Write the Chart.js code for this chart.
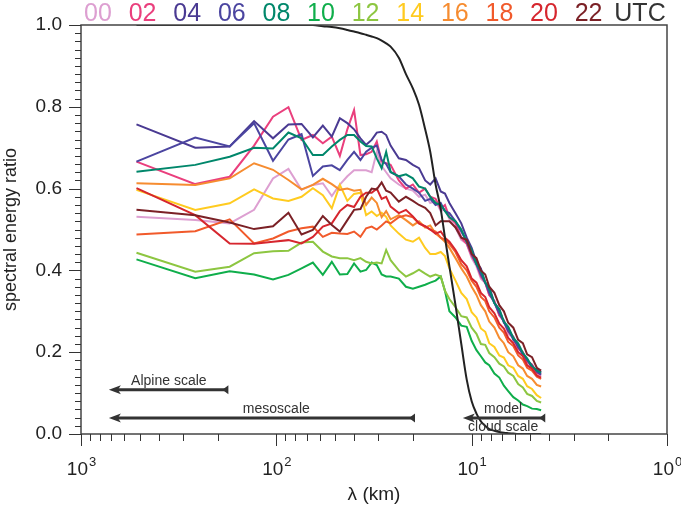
<!DOCTYPE html>
<html>
<head>
<meta charset="utf-8">
<script src="https://cdn.jsdelivr.net/npm/chart.js@4.4.1/dist/chart.umd.min.js"></script>
<style>
  html, body { margin: 0; padding: 0; background: #fff; }
  #wrap { width: 681px; height: 509px; position: relative; }
</style>
</head>
<body>
<div id="wrap"><canvas id="spec"></canvas></div>
<script>
// wavelength of each spectral point (km)
const lambdaKm = [520,260,173.3,130,104,86.7,74.3,65,57.8,52,47.3,43.3,40,37.1,34.7,32.5,30.6,28.9,27.4,26,
  23.6,21.7,20,18.6,17.3,16.3,15.3,14.4,13.7,13,12.1,11.3,10.6,10,9.45,8.97,8.52,8.13,
  7.65,7.22,6.84,6.5,6.12,5.78,5.47,5.2,4.91,4.64,4.41];

const utcHours = ["00","02","04","06","08","10","12","14","16","18","20","22"];
const hourColors = ["#dd9fd1","#ea3f7d","#4a3a92","#4b45a0","#00876b","#0fae4b",
  "#8dc641","#ffcb20","#f68c30","#f15a2b","#d6262e","#7b2126"];

const ratio00 = [0.531,0.523,0.515,0.548,0.625,0.648,0.597,0.609,0.613,0.582,
  0.61,0.63,0.645,0.645,0.645,0.64,0.69,0.655,0.64,0.625,
  0.61,0.6,0.595,0.58,0.585,0.565,0.57,0.545,0.55,0.525,
  0.505,0.475,0.465,0.43,0.41,0.38,0.37,0.34,
  0.325,0.29,0.275,0.245,0.235,0.208,0.198,0.175,0.165,0.148,0.142];
const ratio02 = [0.666,0.611,0.629,0.705,0.776,0.799,0.719,0.731,0.711,0.727,
  0.68,0.745,0.792,0.682,0.684,0.69,0.715,0.666,0.662,0.658,
  0.62,0.6,0.61,0.59,0.6,0.58,0.575,0.55,0.56,0.53,
  0.515,0.48,0.465,0.435,0.415,0.385,0.37,0.34,
  0.325,0.29,0.278,0.25,0.238,0.21,0.2,0.178,0.17,0.15,0.145];
const ratio04 = [0.757,0.70,0.703,0.765,0.723,0.757,0.758,0.725,0.754,0.727,
  0.772,0.76,0.745,0.723,0.707,0.719,0.737,0.739,0.731,0.705,
  0.674,0.67,0.658,0.65,0.62,0.61,0.625,0.593,0.588,0.565,
  0.54,0.515,0.48,0.455,0.42,0.405,0.37,0.36,
  0.32,0.305,0.272,0.26,0.23,0.218,0.192,0.182,0.162,0.158,0.15];
const ratio06 = [0.666,0.725,0.703,0.76,0.668,0.72,0.733,0.631,0.654,0.657,
  0.645,0.67,0.69,0.67,0.69,0.7,0.705,0.67,0.66,0.64,
  0.63,0.61,0.6,0.59,0.57,0.575,0.56,0.565,0.545,0.54,
  0.52,0.495,0.47,0.44,0.415,0.39,0.37,0.345,
  0.32,0.295,0.275,0.252,0.235,0.212,0.198,0.18,0.168,0.152,0.145];
const ratio08 = [0.641,0.658,0.678,0.70,0.698,0.737,0.723,0.682,0.682,0.703,
  0.719,0.731,0.731,0.715,0.704,0.703,0.674,0.65,0.69,0.641,
  0.63,0.635,0.625,0.605,0.6,0.58,0.565,0.56,0.545,0.53,
  0.52,0.5,0.47,0.45,0.415,0.4,0.37,0.355,
  0.32,0.305,0.275,0.262,0.235,0.222,0.198,0.185,0.165,0.155,0.15];
const ratio10 = [0.427,0.381,0.398,0.39,0.378,0.389,0.405,0.419,0.389,0.421,
  0.39,0.391,0.417,0.397,0.401,0.419,0.413,0.39,0.385,0.385,
  0.38,0.36,0.355,0.36,0.365,0.37,0.375,0.385,0.35,0.3,
  0.285,0.265,0.262,0.228,0.205,0.19,0.175,0.168,
  0.148,0.138,0.118,0.105,0.09,0.082,0.072,0.068,0.062,0.061,0.058];
const ratio12 = [0.443,0.397,0.409,0.442,0.447,0.448,0.468,0.47,0.446,0.434,
  0.43,0.43,0.425,0.43,0.421,0.417,0.419,0.417,0.45,0.425,
  0.40,0.385,0.393,0.402,0.392,0.385,0.39,0.385,0.35,0.33,
  0.31,0.288,0.285,0.26,0.245,0.22,0.218,0.198,
  0.188,0.172,0.165,0.15,0.142,0.122,0.114,0.098,0.093,0.081,0.077];
const ratio14 = [0.597,0.548,0.564,0.598,0.576,0.57,0.58,0.601,0.584,0.552,
  0.609,0.57,0.587,0.59,0.535,0.544,0.533,0.541,0.531,0.51,
  0.49,0.475,0.47,0.48,0.455,0.44,0.44,0.445,0.435,0.405,
  0.375,0.345,0.33,0.298,0.285,0.258,0.25,0.222,
  0.213,0.192,0.187,0.168,0.162,0.142,0.135,0.117,0.11,0.095,0.088];
const ratio16 = [0.613,0.609,0.625,0.662,0.646,0.621,0.598,0.609,0.624,0.611,
  0.597,0.6,0.595,0.597,0.56,0.578,0.565,0.53,0.545,0.525,
  0.535,0.523,0.51,0.52,0.505,0.51,0.49,0.48,0.47,0.455,
  0.43,0.405,0.385,0.36,0.34,0.315,0.3,0.275,
  0.26,0.235,0.222,0.2,0.19,0.168,0.16,0.142,0.135,0.12,0.116];
const ratio18 = [0.488,0.496,0.525,0.466,0.478,0.495,0.503,0.507,0.482,0.492,
  0.49,0.489,0.495,0.482,0.503,0.507,0.5,0.51,0.52,0.515,
  0.53,0.535,0.53,0.515,0.507,0.5,0.495,0.48,0.475,0.465,
  0.445,0.415,0.4,0.375,0.36,0.335,0.325,0.3,
  0.285,0.26,0.248,0.225,0.215,0.192,0.182,0.162,0.155,0.14,0.135];
const ratio20 = [0.601,0.535,0.466,0.465,0.47,0.474,0.466,0.482,0.507,0.515,
  0.545,0.56,0.555,0.58,0.59,0.59,0.6,0.575,0.58,0.556,
  0.54,0.548,0.532,0.515,0.508,0.5,0.49,0.495,0.48,0.47,
  0.45,0.425,0.41,0.38,0.37,0.345,0.335,0.31,
  0.295,0.27,0.258,0.235,0.222,0.2,0.19,0.168,0.16,0.143,0.138];
const ratio22 = [0.548,0.535,0.517,0.501,0.508,0.541,0.488,0.499,0.533,0.511,
  0.495,0.523,0.548,0.55,0.58,0.6,0.598,0.615,0.595,0.59,
  0.568,0.58,0.57,0.56,0.553,0.54,0.51,0.52,0.52,0.52,
  0.505,0.48,0.475,0.44,0.43,0.4,0.39,0.36,
  0.345,0.315,0.3,0.272,0.26,0.23,0.222,0.195,0.188,0.162,0.155];

// black curve: filter response
const filterResponse = [1,1,1,1,1,1,1,1,0.997,0.995,
  0.992,0.988,0.984,0.98,0.976,0.972,0.968,0.962,0.955,0.947,
  0.92,0.88,0.845,0.805,0.745,0.69,0.61,0.55,0.48,0.41,
  0.315,0.22,0.133,0.08,0.05,0.031,0.02,0.012,
  0.008,0.005,0.003,0.002,0.001,0,0,0,0,0,0];

const hourRatios = [ratio00, ratio02, ratio04, ratio06, ratio08, ratio10,
  ratio12, ratio14, ratio16, ratio18, ratio20, ratio22];

const yTicks = [0, 0.2, 0.4, 0.6, 0.8, 1.0];
const yTickLabels = ["0.0", "0.2", "0.4", "0.6", "0.8", "1.0"];
const xDecades = [1000, 100, 10, 1];
const xDecadeExp = ["3", "2", "1", "0"];

// range arrows along the bottom: lambda from/to, height, label
const scaleArrows = [
  { from: 720, to: 176, y: 0.108, text: ["Alpine scale"], textAt: 355 },
  { from: 720, to: 19.5, y: 0.039, text: ["mesoscale"], textAt: 100 },
  { from: 11.1, to: 4.2, y: 0.039, text: ["model", "cloud scale"], textAt: 6.9 },
];

const FONT = '"Liberation Sans", Arial, Helvetica, sans-serif';

function pts(vals) {
  return lambdaKm.map((l, i) => ({ x: l, y: vals[i] }));
}

const datasets = [{
  label: "filter",
  data: pts(filterResponse),
  borderColor: "#222",
  borderWidth: 2,
  pointRadius: 0,
  cubicInterpolationMode: "monotone",
}];
for (let i = hourRatios.length - 1; i >= 0; i--) {
  datasets.push({
    label: utcHours[i] + " UTC",
    data: pts(hourRatios[i]),
    borderColor: hourColors[i],
    borderWidth: 2,
    pointRadius: 0,
    tension: 0,
  });
}

const frame = {
  id: "frame",
  afterDatasetsDraw(chart) {
    const { ctx, chartArea: a, scales: { x, y } } = chart;
    ctx.save();

    // box
    ctx.strokeStyle = "#444";
    ctx.lineWidth = 1.5;
    ctx.strokeRect(a.left, a.top, a.right - a.left, a.bottom - a.top);

    // y ticks
    ctx.lineWidth = 1;
    ctx.strokeStyle = "#333";
    ctx.beginPath();
    for (let i = 0; i <= 50; i++) {
      const py = Math.round(y.getPixelForValue(i / 50)) + 0.5;
      ctx.moveTo(a.left - (i % 10 === 0 ? 12 : 6), py);
      ctx.lineTo(a.left, py);
    }
    // x ticks (log minors)
    for (let k = 0; k < 3; k++) {
      for (let m = 1; m <= 10; m++) {
        const v = m * Math.pow(10, k);
        const px = Math.round(x.getPixelForValue(v)) + 0.5;
        const major = m === 1 || m === 10;
        ctx.moveTo(px, a.bottom);
        ctx.lineTo(px, a.bottom + (major ? 12 : 7));
      }
    }
    ctx.stroke();

    // y labels
    ctx.fillStyle = "#222";
    ctx.font = "19px " + FONT;
    ctx.textAlign = "right";
    ctx.textBaseline = "middle";
    yTicks.forEach((v, i) => ctx.fillText(yTickLabels[i], a.left - 19, y.getPixelForValue(v)));

    // x labels 10^n
    ctx.textBaseline = "alphabetic";
    ctx.textAlign = "left";
    xDecades.forEach((v, i) => {
      const px = x.getPixelForValue(v);
      ctx.font = "19px " + FONT;
      const w1 = ctx.measureText("10").width;
      ctx.font = "13px " + FONT;
      const w2 = ctx.measureText(xDecadeExp[i]).width;
      const x0 = px - (w1 + w2) / 2;
      ctx.font = "19px " + FONT;
      ctx.fillText("10", x0, a.bottom + 41);
      ctx.font = "13px " + FONT;
      ctx.fillText(xDecadeExp[i], x0 + w1 + 1, a.bottom + 32);
    });

    // axis titles
    ctx.font = "19px " + FONT;
    ctx.textAlign = "center";
    ctx.fillText("\u03bb (km)", (a.left + a.right) / 2, a.bottom + 66);
    ctx.save();
    ctx.translate(16, (a.top + a.bottom) / 2);
    ctx.rotate(-Math.PI / 2);
    ctx.font = "18px " + FONT;
    ctx.fillText("spectral energy ratio", 0, 0);
    ctx.restore();

    // legend line of hours
    ctx.font = "25px " + FONT;
    ctx.textAlign = "center";
    utcHours.forEach((h, i) => {
      ctx.fillStyle = hourColors[i];
      ctx.fillText(h, 98 + i * 44.6, 21);
    });
    ctx.fillStyle = "#333";
    ctx.fillText("UTC", 640, 21);

    // scale arrows
    ctx.fillStyle = "#333";
    ctx.strokeStyle = "#333";
    ctx.font = "14px " + FONT;
    scaleArrows.forEach(ar => {
      const x0 = x.getPixelForValue(ar.from);
      const x1 = x.getPixelForValue(ar.to);
      const py = y.getPixelForValue(ar.y);
      ctx.lineWidth = 3;
      ctx.beginPath();
      ctx.moveTo(x0 + 6, py);
      ctx.lineTo(x1 - 2, py);
      ctx.stroke();
      ctx.beginPath();
      ctx.moveTo(x0, py);
      ctx.lineTo(x0 + 12, py - 4.5);
      ctx.lineTo(x0 + 9, py);
      ctx.lineTo(x0 + 12, py + 4.5);
      ctx.closePath();
      ctx.fill();
      ctx.beginPath();
      ctx.moveTo(x1 - 6, py);
      ctx.lineTo(x1, py - 4.5);
      ctx.lineTo(x1, py + 4.5);
      ctx.closePath();
      ctx.fill();
      const tx = x.getPixelForValue(ar.textAt);
      ctx.textBaseline = "middle";
      ctx.fillText(ar.text[0], tx, py - 9);
      if (ar.text[1]) ctx.fillText(ar.text[1], tx, py + 9);
    });

    ctx.restore();
  }
};

new Chart(document.getElementById("spec").getContext("2d"), {
  type: "line",
  data: { datasets },
  options: {
    responsive: true,
    maintainAspectRatio: false,
    animation: false,
    parsing: true,
    layout: { padding: { left: 81, right: 14, top: 25, bottom: 75 } },
    scales: {
      x: { type: "logarithmic", min: 1, max: 1000, reverse: true, display: false },
      y: { type: "linear", min: 0, max: 1, display: false },
    },
    plugins: { legend: { display: false }, tooltip: { enabled: false } },
  },
  plugins: [frame],
});
</script>
</body>
</html>
